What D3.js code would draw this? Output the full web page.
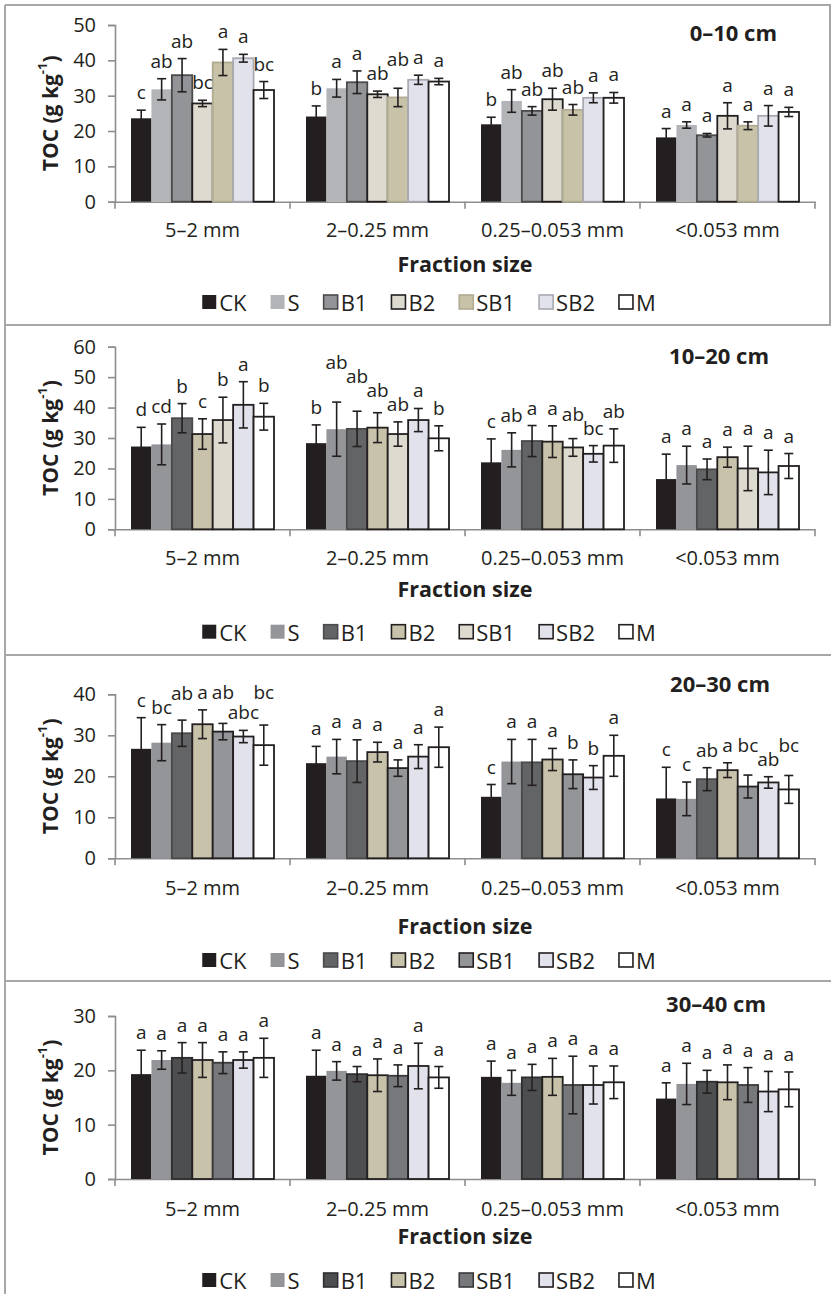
<!DOCTYPE html>
<html>
<head>
<meta charset="utf-8">
<script src="https://cdn.jsdelivr.net/npm/d3@7"></script>
<style>
	body { margin: 0; background: #fff; }
	text { font-family: "Open Sans", sans-serif; fill: #231f20; }
</style>
</head>
<body>
<div id="chart-area"></div>
<script>
// Categories
const treatments = ["CK", "S", "B1", "B2", "SB1", "SB2", "M"];
const fractions = ["5–2 mm", "2–0.25 mm", "0.25–0.053 mm", "<0.053 mm"];
const depths = ["0–10 cm", "10–20 cm", "20–30 cm", "30–40 cm"];

// Y tick labels per panel
const ticks0_10 = [0, 10, 20, 30, 40, 50];
const ticks10_20 = [0, 10, 20, 30, 40, 50, 60];
const ticks20_30 = [0, 10, 20, 30, 40];
const ticks30_40 = [0, 10, 20, 30];

// TOC means (rows = fraction, cols = treatment)
const toc0_10 = [
	[23.6, 31.8, 35.8, 27.8, 39.4, 40.6, 31.6],
	[24.1, 32.1, 33.8, 30.4, 29.5, 34.5, 34.0],
	[21.9, 28.5, 25.7, 29.0, 26.0, 29.4, 29.4],
	[18.2, 21.7, 18.8, 24.3, 21.5, 24.3, 25.4]
];
const err0_10 = [
	[2.3, 3.0, 4.7, 0.9, 3.7, 1.1, 2.4],
	[3.0, 2.5, 3.2, 0.9, 2.6, 1.3, 0.9],
	[2.0, 3.2, 1.2, 3.1, 1.5, 1.4, 1.5],
	[2.5, 0.9, 0.5, 3.7, 1.1, 2.9, 1.3]
];
const sig0_10 = [
	["c", "ab", "ab", "bc", "a", "a", "bc"],
	["b", "a", "a", "ab", "ab", "a", "a"],
	["b", "ab", "ab", "ab", "ab", "a", "a"],
	["a", "a", "a", "a", "a", "a", "a"]
];

const toc10_20 = [
	[27.2, 27.9, 36.5, 31.3, 35.9, 40.9, 37.0],
	[28.3, 32.9, 33.0, 33.4, 31.3, 35.9, 29.9],
	[22.0, 26.1, 29.0, 28.8, 26.9, 24.8, 27.5],
	[16.5, 21.1, 19.7, 23.7, 20.0, 18.7, 20.8]
];
const err10_20 = [
	[6.3, 6.7, 4.8, 5.0, 7.5, 7.6, 4.4],
	[6.0, 8.9, 5.8, 4.9, 4.0, 3.8, 4.1],
	[7.7, 5.6, 5.1, 5.2, 2.9, 2.7, 5.5],
	[8.2, 6.2, 3.4, 3.3, 7.3, 7.3, 4.1]
];
const sig10_20 = [
	["d", "cd", "b", "c", "b", "a", "b"],
	["b", "ab", "ab", "ab", "ab", "a", "b"],
	["c", "ab", "a", "a", "ab", "bc", "ab"],
	["a", "a", "a", "a", "a", "a", "a"]
];

const toc20_30 = [
	[26.7, 28.2, 30.5, 32.7, 30.9, 29.7, 27.6],
	[23.2, 24.8, 23.7, 25.9, 22.0, 24.8, 27.1],
	[15.0, 23.6, 23.4, 24.1, 20.5, 19.7, 25.0],
	[14.6, 14.5, 19.3, 21.5, 17.5, 18.5, 16.8]
];
const err20_30 = [
	[7.6, 4.4, 3.2, 3.5, 2.0, 1.5, 4.9],
	[4.1, 4.2, 5.2, 2.4, 2.0, 2.9, 4.9],
	[3.0, 5.4, 5.6, 2.7, 3.5, 2.9, 5.0],
	[7.6, 4.1, 2.8, 1.8, 2.8, 1.4, 3.4]
];
const sig20_30 = [
	["c", "bc", "ab", "a", "ab", "abc", "bc"],
	["a", "a", "a", "a", "a", "a", "a"],
	["c", "a", "a", "a", "b", "b", "a"],
	["c", "c", "ab", "a", "bc", "ab", "bc"]
];

const toc30_40 = [
	[19.3, 21.9, 22.3, 21.9, 21.4, 21.9, 22.3],
	[19.0, 19.9, 19.3, 19.1, 19.0, 20.8, 18.7],
	[18.8, 17.7, 18.7, 18.8, 17.3, 17.3, 17.8],
	[14.8, 17.5, 17.9, 17.8, 17.3, 16.1, 16.5]
];
const err30_40 = [
	[4.4, 1.7, 2.8, 3.2, 2.0, 1.5, 3.6],
	[4.7, 1.7, 1.4, 3.0, 2.0, 4.2, 2.0],
	[2.9, 2.3, 2.4, 3.4, 5.3, 3.5, 3.0],
	[2.9, 3.8, 2.1, 3.2, 3.2, 3.7, 3.2]
];
const sig30_40 = [
	["a", "a", "a", "a", "a", "a", "a"],
	["a", "a", "a", "a", "a", "a", "a"],
	["a", "a", "a", "a", "a", "a", "a"],
	["a", "a", "a", "a", "a", "a", "a"]
];

// Bar styles per panel (fill, outline)
const styles = [
	{
		fill: ["#231f20", "#b2b4b7", "#929497", "#dddbcf", "#c7c2a8", "#e1e2ec", "#ffffff"],
		stroke: [null, null, "#4a4a4c", "#231f20", "#b0ab93", "#a9aab2", "#231f20"]
	},
	{
		fill: ["#231f20", "#939598", "#636466", "#c7c2a9", "#dddbcf", "#e1e2ec", "#ffffff"],
		stroke: [null, null, "#4a4a4c", "#231f20", "#231f20", "#231f20", "#231f20"]
	},
	{
		fill: ["#231f20", "#939598", "#636466", "#c7c2a9", "#939598", "#e1e2ec", "#ffffff"],
		stroke: [null, null, "#4a4a4c", "#231f20", "#231f20", "#231f20", "#231f20"]
	},
	{
		fill: ["#231f20", "#939598", "#4d4e50", "#c7c2a9", "#77787b", "#e1e2ec", "#ffffff"],
		stroke: [null, null, "#2e2e30", "#231f20", "#3a3a3c", "#231f20", "#231f20"]
	}
];

// Panel layout
const layouts = [
	{ top: 5, bottom: 325, right: true, y0: 201.7, yTop: 25, catY: 230, fracY: 263, legY: 302, titleX: 777, titleY: 32 },
	{ top: 325, bottom: 655, right: false, y0: 529.3, yTop: 346.7, catY: 558.3, fracY: 588, legY: 631.7, titleX: 769, titleY: 355 },
	{ top: 655, bottom: 981, right: false, y0: 858.3, yTop: 694.3, catY: 888.3, fracY: 925, legY: 960, titleX: 770, titleY: 683 },
	{ top: 981, bottom: null, right: false, y0: 1179, yTop: 1016, catY: 1208.3, fracY: 1235, legY: 1280, titleX: 766, titleY: 1003 }
];

const svg = d3.select("#chart-area").append("svg")
	.attr("width", 831)
	.attr("height", 1294);

class BarPanel {
	constructor(svg, data, layout, style) {
		this.layout = layout;
		this.style = style;
		this.drawChart(svg, data);
	}

	drawChart(svg, data) {
		let L = this.layout,
			st = this.style;
		let g = svg.append("g");

		// Panel frame
		const frame = "#a7a7a7";
		g.append("line").attr("x1", 5).attr("x2", 5)
			.attr("y1", L.top).attr("y2", L.bottom === null ? 1294 : L.bottom)
			.attr("stroke", frame).attr("stroke-width", 2);
		g.append("line").attr("x1", 5).attr("x2", 831)
			.attr("y1", L.top).attr("y2", L.top)
			.attr("stroke", frame).attr("stroke-width", 2);
		if (L.right) {
			g.append("line").attr("x1", 830).attr("x2", 830)
				.attr("y1", L.top).attr("y2", L.bottom)
				.attr("stroke", frame).attr("stroke-width", 2);
		}

		// X scales
		let x = d3.scaleBand().domain(fractions).range([115, 815]);
		let xs = d3.scaleBand().domain(treatments).range([16, x.bandwidth() - 16]);

		// Y scale
		let y = d3.scaleLinear()
			.domain([0, d3.max(data.ticks)])
			.range([L.y0, L.yTop]);

		// flatten the rows
		let rows = [];
		fractions.forEach((f, i) => {
			treatments.forEach((t, j) => {
				rows.push({ f: f, t: t, j: j, v: data.toc[i][j], e: data.err[i][j], s: data.sig[i][j] });
			});
		});

		// Axes
		let yAxis = d3.axisLeft(y)
			.tickValues(data.ticks)
			.tickSize(7)
			.tickPadding(12);
		let ya = g.append("g")
			.attr("class", "y axis")
			.attr("transform", "translate(115,0)")
			.call(yAxis);
		ya.selectAll("text").style("font-size", "20px");

		let xAxis = d3.axisBottom(x)
			.tickSize(0)
			.tickSizeOuter(0)
			.tickPadding(L.catY - L.y0 - 7);
		let xa = g.append("g")
			.attr("class", "x axis")
			.attr("transform", "translate(0," + L.y0 + ")")
			.call(xAxis);
		xa.selectAll("text").style("font-size", "20px");

		// category boundary ticks
		xa.selectAll(".bound")
			.data(fractions.map(f => x(f)).concat([x.range()[1]]))
			.enter()
			.append("line")
			.attr("class", "bound")
			.attr("x1", d => d).attr("x2", d => d)
			.attr("y1", 0).attr("y2", 7);

		g.selectAll(".axis path, .axis line")
			.attr("stroke", "#8d8d8d")
			.attr("stroke-width", 1.6);
		g.selectAll(".axis text").style("fill", "#231f20").attr("font-family", null);

		// Bars
		g.selectAll(".bar")
			.data(rows)
			.enter()
			.append("rect")
			.attr("class", "bar")
			.attr("x", d => x(d.f) + xs(d.t))
			.attr("y", d => y(d.v))
			.attr("width", xs.bandwidth())
			.attr("height", d => y(0) - y(d.v))
			.attr("fill", d => st.fill[d.j])
			.attr("stroke", d => st.stroke[d.j] || "none")
			.attr("stroke-width", 1.8);

		// Error bars
		let eb = g.selectAll(".err")
			.data(rows)
			.enter()
			.append("g")
			.attr("class", "err")
			.attr("transform", d => "translate(" + (x(d.f) + xs(d.t) + xs.bandwidth() / 2) + ",0)")
			.attr("stroke", "#231f20")
			.attr("stroke-width", 1.6);
		eb.append("line").attr("y1", d => y(d.v + d.e)).attr("y2", d => y(d.v - d.e));
		eb.append("line").attr("x1", -4.5).attr("x2", 4.5)
			.attr("y1", d => y(d.v + d.e)).attr("y2", d => y(d.v + d.e));
		eb.append("line").attr("x1", -4.5).attr("x2", 4.5)
			.attr("y1", d => y(d.v - d.e)).attr("y2", d => y(d.v - d.e));

		// Significance letters
		let sig = g.selectAll(".sig")
			.data(rows)
			.enter()
			.append("text")
			.attr("class", "sig")
			.attr("x", d => x(d.f) + xs(d.t) + xs.bandwidth() / 2)
			.style("text-anchor", "middle")
			.style("font-size", "19px")
			.text(d => d.s);

		// stagger crowded letters (like the hand-placed labels in the figure)
		sig.each(function(d) {
			d.ly = y(d.v + d.e) - 11;
			d.lw = this.getComputedTextLength();
		});
		fractions.forEach(f => {
			let grp = rows.filter(r => r.f === f);
			for (let pass = 0; pass < 4; pass++) {
				for (let k = 1; k < grp.length; k++) {
					let a = grp[k - 1], b = grp[k];
					let over = (a.lw + b.lw) / 2 + 1 - xs.step();
					let sep = over > 5 ? 20 : 14;
					if (over > 0 && Math.abs(a.ly - b.ly) < sep) {
						if (b.ly >= a.ly) a.ly = b.ly - sep;
						else b.ly = a.ly - sep;
					}
				}
			}
		});
		sig.attr("y", d => d.ly);

		// Axis labels
		g.append("text")
			.attr("x", (x.range()[0] + x.range()[1]) / 2)
			.attr("y", L.fracY)
			.attr("dominant-baseline", "central")
			.style("text-anchor", "middle")
			.style("font-size", "21.5px")
			.style("font-weight", "bold")
			.text("Fraction size");

		let yl = g.append("text")
			.attr("transform", "translate(50," + ((L.y0 + L.yTop) / 2) + ") rotate(-90)")
			.attr("dominant-baseline", "central")
			.style("text-anchor", "middle")
			.style("font-size", "21px")
			.style("font-weight", "bold");
		yl.append("tspan").text("TOC (g kg");
		yl.append("tspan").attr("dy", -8).style("font-size", "13px").text("-1");
		yl.append("tspan").attr("dy", 8).text(")");

		// Depth title
		g.append("text")
			.attr("x", L.titleX)
			.attr("y", L.titleY)
			.attr("dominant-baseline", "central")
			.style("text-anchor", "end")
			.style("font-size", "22px")
			.style("font-weight", "bold")
			.text(data.title);

		// Legend
		let leg = g.append("g");
		let pos = 0;
		const gap = 24;
		treatments.forEach((t, j) => {
			let item = leg.append("g").attr("transform", "translate(" + pos + ",0)");
			item.append("rect")
				.attr("x", 0).attr("y", L.legY - 7)
				.attr("width", 14).attr("height", 14)
				.attr("fill", st.fill[j])
				.attr("stroke", st.stroke[j] || "none")
				.attr("stroke-width", 1.6);
			let tx = item.append("text")
				.attr("x", 17).attr("y", L.legY)
				.attr("dominant-baseline", "central")
				.style("font-size", "22px")
				.text(t);
			pos += 17 + tx.node().getComputedTextLength() + gap;
		});
		let legW = pos - gap;
		leg.attr("transform", "translate(" + (429 - legW / 2) + ",0)");
	}
}

const panelData = [
	{ title: depths[0], ticks: ticks0_10, toc: toc0_10, err: err0_10, sig: sig0_10 },
	{ title: depths[1], ticks: ticks10_20, toc: toc10_20, err: err10_20, sig: sig10_20 },
	{ title: depths[2], ticks: ticks20_30, toc: toc20_30, err: err20_30, sig: sig20_30 },
	{ title: depths[3], ticks: ticks30_40, toc: toc30_40, err: err30_40, sig: sig30_40 }
];

panelData.forEach((d, i) => new BarPanel(svg, d, layouts[i], styles[i]));
</script>
</body>
</html>
